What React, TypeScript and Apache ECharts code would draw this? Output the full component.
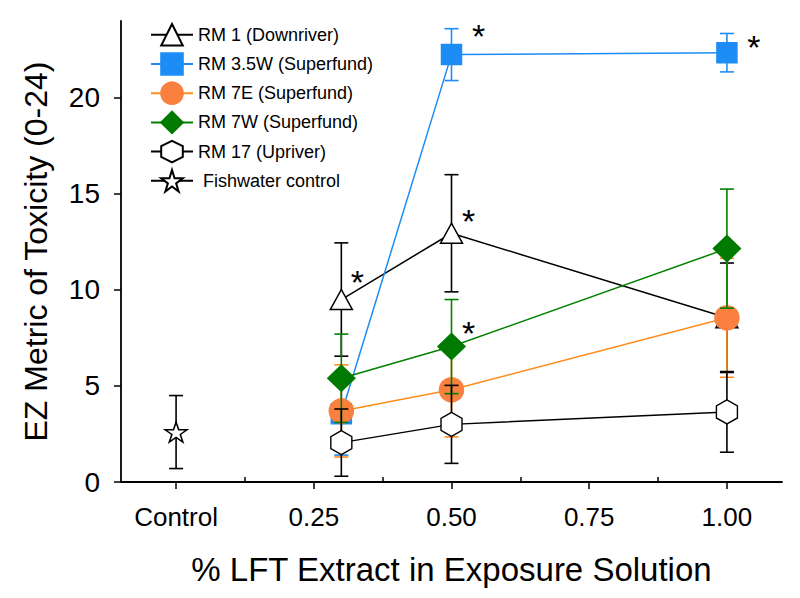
import React, { useEffect, useRef } from "react";
import * as echarts from "echarts";

// ---- data ----
const doses = [0.3, 0.5, 1.0];
const controlDose = [0];

const rm1Mean = [9.5, 12.95, 8.55];
const rm1Err = [2.95, 3.05, 2.85];
const rm1Sig = [true, true, false];

const rm35wMean = [3.55, 22.25, 22.35];
const rm35wErr = [2.15, 1.35, 1.0];
const rm35wSig = [false, true, true];

const rm7eMean = [3.7, 4.8, 8.55];
const rm7eErr = [2.4, 2.45, 3.1];
const rm7eSig = [false, false, false];

const rm7wMean = [5.4, 7.05, 12.15];
const rm7wErr = [2.3, 2.45, 3.1];
const rm7wSig = [false, true, false];

const rm17Mean = [2.05, 3.0, 3.65];
const rm17Err = [1.75, 2.03, 2.1];
const rm17Sig = [false, false, false];

const controlMean = [2.6];
const controlErr = [1.9];
const controlSig = [false];

const seriesNames = [
  "RM 1 (Downriver)",
  "RM 3.5W (Superfund)",
  "RM 7E (Superfund)",
  "RM 7W (Superfund)",
  "RM 17 (Upriver)",
  " Fishwater control",
];

const xMajorTicks = [0, 0.25, 0.5, 0.75, 1.0];
const xMinorTicks = [0.125, 0.375, 0.625, 0.875];
const yTicks = [0, 5, 10, 15, 20];

const xTitle = "% LFT Extract in Exposure Solution";
const yTitle = "EZ Metric of Toxicity (0-24)";

// ---- styles ----
const FONT = "Liberation Sans";
const HEX = "path://M0,-1L0.866,-0.5L0.866,0.5L0,1L-0.866,0.5L-0.866,-0.5Z";
const STAR =
  "path://M0,-1L0.2245,-0.309L0.951,-0.309L0.363,0.118L0.588,0.809L0,0.382L-0.588,0.809L-0.363,0.118L-0.951,-0.309L-0.2245,-0.309Z";

const groups = [
  { x: doses, mean: rm1Mean, err: rm1Err, sig: rm1Sig, symbol: "triangle", size: [22, 20], fill: "#ffffff", border: "#000000", line: "#000000", sigOffset: [[16, -18], [17, -12], [0, 0]] },
  { x: doses, mean: rm35wMean, err: rm35wErr, sig: rm35wSig, symbol: "rect", size: [20, 20], fill: "#1E8CF5", border: "#1E8CF5", line: "#1E8CF5", sigOffset: [[0, 0], [27, -19], [27, -6]] },
  { x: doses, mean: rm7eMean, err: rm7eErr, sig: rm7eSig, symbol: "circle", size: [24, 24], fill: "#FA8040", border: "#FA8040", line: "#FF8C1A", sigOffset: [[0, 0], [0, 0], [0, 0]] },
  { x: doses, mean: rm7wMean, err: rm7wErr, sig: rm7wSig, symbol: "diamond", size: [27, 26], fill: "#007A00", border: "#007A00", line: "#008000", sigOffset: [[0, 0], [17, -14], [0, 0]] },
  { x: doses, mean: rm17Mean, err: rm17Err, sig: rm17Sig, symbol: HEX, size: [21, 24], fill: "#ffffff", border: "#000000", line: "#000000", sigOffset: [[0, 0], [0, 0], [0, 0]] },
  { x: controlDose, mean: controlMean, err: controlErr, sig: controlSig, symbol: STAR, size: [22, 20], fill: "#ffffff", border: "#000000", line: "#000000", sigOffset: [[0, 0]] },
];

function buildOption() {
  const series: any[] = [];
  groups.forEach((g, gi) => {
    const color = g.line;
    series.push({
      name: "errbar-" + gi,
      type: "custom",
      z: 2 + gi * 2,
      xAxisIndex: 0,
      yAxisIndex: 0,
      encode: { x: 0, y: [1, 2] },
      data: g.x.map((d, i) => [d, g.mean[i] - g.err[i], g.mean[i] + g.err[i]]),
      renderItem: (params: any, api: any) => {
        const x = api.value(0);
        const top = api.coord([x, api.value(2)]);
        const bot = api.coord([x, api.value(1)]);
        const hw = 7;
        const style = { stroke: color, lineWidth: 1.6, fill: null };
        return {
          type: "group",
          children: [
            { type: "line", shape: { x1: top[0], y1: top[1], x2: bot[0], y2: bot[1] }, style },
            { type: "line", shape: { x1: top[0] - hw, y1: top[1], x2: top[0] + hw, y2: top[1] }, style },
            { type: "line", shape: { x1: bot[0] - hw, y1: bot[1], x2: bot[0] + hw, y2: bot[1] }, style },
          ],
        };
      },
    });
    series.push({
      name: seriesNames[gi],
      type: "line",
      z: 3 + gi * 2,
      xAxisIndex: 0,
      yAxisIndex: 0,
      symbol: g.symbol,
      symbolSize: g.size,
      showAllSymbol: true,
      lineStyle: { color: g.line, width: 1.5 },
      itemStyle: { color: g.fill, borderColor: g.border, borderWidth: 1.5 },
      emphasis: { disabled: true },
      data: g.x.map((d, i) => {
        const item: any = { value: [d, g.mean[i]] };
        if (g.sig[i]) {
          item.label = {
            show: true,
            formatter: "*",
            position: "inside",
            offset: g.sigOffset[i],
            fontSize: 34,
            fontFamily: FONT,
            color: "#000",
            align: "center",
            verticalAlign: "middle",
          };
        }
        return item;
      }),
    });
  });

  return {
    animation: false,
    backgroundColor: "#ffffff",
    textStyle: { fontFamily: FONT, color: "#000" },
    grid: { left: 121, right: 18, top: 21, bottom: 116, containLabel: false, outerBoundsMode: "none" },
    legend: {
      data: seriesNames,
      orient: "vertical",
      left: 145,
      top: 18,
      itemWidth: 42,
      itemHeight: 27,
      itemGap: 5.6,
      selectedMode: false,
      textStyle: { fontSize: 18, fontFamily: FONT, color: "#000" },
    },
    xAxis: [
      {
        type: "value",
        min: -0.1,
        max: 1.1,
        position: "bottom",
        axisLine: { show: true, onZero: false, lineStyle: { color: "#000", width: 1.8 } },
        axisTick: { show: true, customValues: xMajorTicks, length: 7, inside: false, lineStyle: { color: "#000", width: 1.5 } },
        axisLabel: {
          show: true,
          customValues: xMajorTicks,
          margin: 22,
          fontSize: 26,
          fontFamily: FONT,
          color: "#000",
          formatter: (v: number) => (v === 0 ? "Control" : v.toFixed(2)),
        },
        splitLine: { show: false },
        name: xTitle,
        nameLocation: "middle",
        nameGap: 71,
        nameTextStyle: { fontSize: 33, fontFamily: FONT, color: "#000" },
      },
      {
        type: "value",
        min: -0.1,
        max: 1.1,
        position: "bottom",
        axisLine: { show: false, onZero: false },
        axisTick: { show: true, customValues: xMinorTicks, length: 5, inside: true, lineStyle: { color: "#000", width: 1.5 } },
        axisLabel: { show: false },
        splitLine: { show: false },
      },
    ],
    yAxis: {
      type: "value",
      min: 0,
      max: 24,
      position: "left",
      axisLine: { show: true, onZero: false, lineStyle: { color: "#000", width: 1.8 } },
      axisTick: { show: true, customValues: yTicks, length: 7, inside: false, lineStyle: { color: "#000", width: 1.5 } },
      axisLabel: {
        show: true,
        customValues: yTicks,
        margin: 21,
        fontSize: 28,
        fontFamily: FONT,
        color: "#000",
      },
      splitLine: { show: false },
      name: yTitle,
      nameLocation: "middle",
      nameGap: 69,
      nameTextStyle: { fontSize: 32, fontFamily: FONT, color: "#000" },
    },
    series,
  };
}

export default function App() {
  const ref = useRef<HTMLDivElement>(null);
  useEffect(() => {
    if (!ref.current) return;
    const chart = echarts.init(ref.current, undefined, { renderer: "svg" });
    chart.setOption(buildOption() as any);
    return () => chart.dispose();
  }, []);
  return (
    <div
      ref={ref}
      style={{ position: "fixed", left: 0, top: 0, width: 800, height: 598, background: "#fff" }}
    />
  );
}
